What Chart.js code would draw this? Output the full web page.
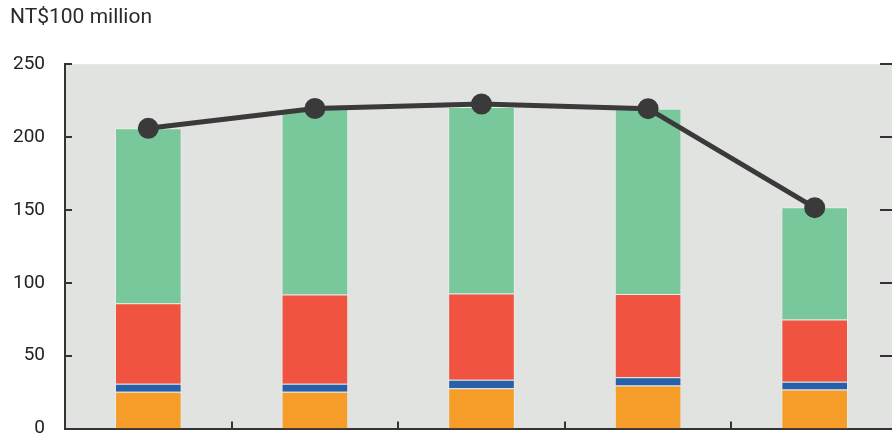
<!DOCTYPE html>
<html>
<head>
<meta charset="utf-8">
<script src="https://cdn.jsdelivr.net/npm/chart.js@4/dist/chart.umd.min.js"></script>
<style>
  html, body { margin: 0; padding: 0; background: #fff; overflow: hidden; }
  #wrap { width: 892px; height: 435px; overflow: hidden; position: relative; }
  canvas { display: block; }
</style>
</head>
<body>
<div id="wrap"><canvas id="chart" width="911" height="460"></canvas></div>
<script>
// categories have no visible labels in the crop
const categories = ["1", "2", "3", "4", "5"];
const orangeValues = [25.2, 25.3, 27.7, 29.5, 26.8];
const blueValues = [5.6, 5.5, 5.8, 5.7, 5.3];
const redValues = [55.2, 61.2, 59.2, 57.1, 42.8];
const greenValues = [120.0, 127.5, 127.9, 127.2, 76.9];
const totalValues = [206.0, 219.6, 222.7, 219.5, 151.6];
const yTicks = [0, 50, 100, 150, 200, 250];

Chart.defaults.font.family = "Roboto, 'Noto Sans', sans-serif";
Chart.defaults.color = "#222";

const plotBg = {
  id: "plotBg",
  beforeDraw(chart) {
    const { ctx, chartArea: a } = chart;
    ctx.save();
    ctx.fillStyle = "#e1e3e0";
    ctx.fillRect(a.left, a.top, a.right - a.left, a.bottom - a.top);
    ctx.restore();
  }
};

// tick marks pointing into the plot
const innerTicks = {
  id: "innerTicks",
  afterDraw(chart) {
    const { ctx, chartArea: a, scales } = chart;
    const x = scales.x, y = scales.y;
    ctx.save();
    ctx.strokeStyle = "#333";
    ctx.lineWidth = 2;
    ctx.beginPath();
    y.ticks.forEach((t) => {
      const py = Math.round(y.getPixelForValue(t.value));
      ctx.moveTo(a.left, py); ctx.lineTo(a.left + 7, py);
      ctx.moveTo(a.right, py); ctx.lineTo(a.right - 18, py);
    });
    for (let i = 0; i < categories.length - 1; i++) {
      const px = Math.round((x.getPixelForValue(i) + x.getPixelForValue(i + 1)) / 2);
      ctx.moveTo(px, a.bottom); ctx.lineTo(px, a.bottom - 7);
    }
    ctx.stroke();
    ctx.restore();
  }
};

const barStyle = { borderColor: "rgba(255,255,255,0.35)", borderWidth: 1, barPercentage: 0.4, categoryPercentage: 1, order: 1 };

new Chart(document.getElementById("chart"), {
  data: {
    labels: categories,
    datasets: [
      { type: "bar", label: "orange", data: orangeValues, backgroundColor: "#f59d28", ...barStyle },
      { type: "bar", label: "blue", data: blueValues, backgroundColor: "#2660ab", ...barStyle },
      { type: "bar", label: "red", data: redValues, backgroundColor: "#f0533f", ...barStyle },
      { type: "bar", label: "green", data: greenValues, backgroundColor: "#78c89b", ...barStyle },
      {
        type: "line",
        label: "total",
        data: totalValues,
        borderColor: "#3a3a3a",
        backgroundColor: "#3a3a3a",
        borderWidth: 5,
        pointRadius: 8,
        pointHoverRadius: 8,
        tension: 0,
        order: 0
      }
    ]
  },
  options: {
    responsive: false,
    animation: false,
    layout: { padding: { left: 10, right: 2, top: 0, bottom: 0 } },
    plugins: {
      legend: { display: false },
      tooltip: { enabled: false },
      title: {
        display: true,
        text: "NT$100 million",
        align: "start",
        color: "#2a2a2a",
        font: { size: 21, weight: "normal" },
        padding: { top: 5, bottom: 34 }
      }
    },
    scales: {
      x: {
        stacked: true,
        afterFit: (s) => { s.height = 29; },
        ticks: { display: false },
        grid: { display: false, drawTicks: false },
        border: { display: true, color: "#333", width: 2 }
      },
      y: {
        stacked: true,
        min: 0,
        max: 250,
        afterBuildTicks: (s) => { s.ticks = yTicks.map((v) => ({ value: v })); },
        afterFit: (s) => { s.width = 55; },
        ticks: { color: "#222", font: { size: 19 }, padding: 20 },
        grid: { display: false, drawTicks: false },
        border: { display: true, color: "#333", width: 2 }
      }
    }
  },
  plugins: [plotBg, innerTicks]
});
</script>
</body>
</html>
